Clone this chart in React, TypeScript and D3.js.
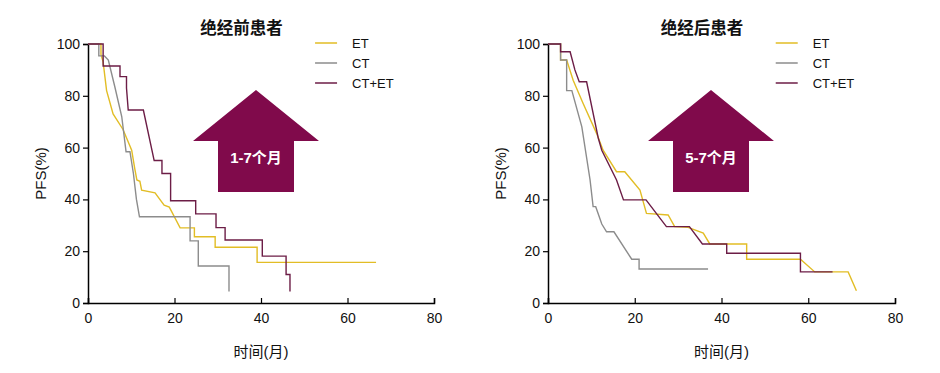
import React from 'react';
import { useEffect, useRef } from 'react';
import * as d3 from 'd3';

// PFS curves: [month, percent]
const preET = [[0, 100], [3, 100], [3, 96], [3.5, 93], [4.3, 82], [5.8, 73], [8.1, 67], [10.1, 59], [10.8, 52], [11.3, 47.5], [12.0, 47], [12.4, 43.6], [15.5, 42.5], [17.6, 37.8], [18.8, 37], [21.3, 29], [24.6, 29], [24.6, 25.6], [29.4, 25.6], [29.4, 21.5], [39.1, 21.5], [39.1, 15.7], [66.6, 15.7]];
const preCT = [[0, 100], [2.5, 100], [2.5, 95.4], [3.8, 95.4], [4.7, 93.8], [6.2, 83.5], [7.8, 72], [8.8, 58.4], [9.7, 58.4], [10.5, 50], [11.2, 40], [11.9, 33.3], [23.6, 33.3], [23.6, 24], [25.5, 24], [25.5, 14.3], [32.6, 14.3], [32.6, 4.4]];
const preCTET = [[0, 100], [3.5, 100], [3.5, 91.5], [7.4, 91.5], [7.4, 87.4], [8.9, 87.4], [8.9, 83], [9.3, 74.5], [12.8, 74.5], [15.3, 55], [17.1, 55], [17.1, 50], [19.1, 50], [19.1, 39.5], [24.9, 39.5], [24.9, 34.4], [29.6, 34.4], [29.6, 29.1], [31.7, 29.1], [31.7, 24.3], [40.3, 24.3], [40.3, 18.1], [45.8, 18.1], [45.8, 11], [46.7, 11], [46.7, 4.4]];

const postET = [[0, 100], [2.9, 100], [2.9, 93.8], [4.3, 93.8], [5.8, 86], [8.1, 77], [11.2, 65.5], [12.7, 59], [15.8, 50.7], [17.7, 50.7], [21.2, 43.6], [22.7, 34.6], [27.7, 34], [29.2, 29.5], [32.3, 29.2], [35.8, 27], [37.3, 22.8], [45.8, 22.8], [45.8, 16.9], [58.2, 16.9], [61.5, 12], [69.2, 12], [71.1, 4.7]];
const postCT = [[0, 100], [2.9, 100], [2.9, 93.8], [4.3, 93.8], [4.3, 82], [5.5, 82], [7.8, 68], [9.7, 47.5], [10.4, 37.2], [11.0, 37.2], [12.4, 30.5], [13.5, 27.5], [15.2, 27.5], [19.3, 16.9], [21, 16.9], [21, 13.1], [36.9, 13.1]];
const postCTET = [[0, 100], [2.9, 100], [2.9, 97], [5.1, 97], [6.2, 90], [7.2, 85.4], [8.9, 85.4], [11.6, 63.6], [12.4, 59], [15.8, 47.5], [17.4, 39.8], [22.6, 39.8], [27.3, 29.5], [32.6, 29.5], [35.6, 22.8], [41.2, 22.8], [41.2, 19.2], [58.2, 19.2], [58.2, 12], [65.6, 12]];

const seriesNames = ['ET', 'CT', 'CT+ET'];
const colors = ['#e2bd25', '#8c8c8c', '#6c1d46'];
const xTicks = [0, 20, 40, 60, 80];
const yTicks = [0, 20, 40, 60, 80, 100];
const titles = ['绝经前患者', '绝经后患者'];
const arrowLabels = ['1-7个月', '5-7个月'];

const cjk = '"Liberation Sans", Arial, "Noto Sans CJK SC", sans-serif';

const App = () => {
    const svgRef = useRef();
    const width = 940;
    const height = 373;

    useEffect(() => {
        const svg = d3.select(svgRef.current);
        svg.selectAll('*').remove();

        const panels = [
            { left: 88, right: 434, arrowX: 256, data: [preET, preCT, preCTET] },
            { left: 548, right: 895, arrowX: 711, data: [postET, postCT, postCTET] },
        ];

        panels.forEach((p, i) => {
            const g = svg.append('g');
            const x = d3.scaleLinear().domain([0, 80]).range([p.left, p.right]);
            const y = d3.scaleLinear().domain([0, 100]).range([303, 44]);

            // axes
            const yAxis = g.append('g')
                .attr('transform', `translate(${p.left},0)`)
                .call(d3.axisLeft(y).tickValues(yTicks).tickSize(5).tickPadding(3));
            const xAxis = g.append('g')
                .attr('transform', 'translate(0,303)')
                .call(d3.axisBottom(x).tickValues(xTicks).tickSize(-5).tickPadding(16));
            [xAxis, yAxis].forEach((a) => {
                a.select('.domain').attr('stroke', '#000').attr('stroke-width', 1.5);
                a.selectAll('.tick line').attr('stroke', '#000').attr('stroke-width', 1.2);
                a.selectAll('.tick text')
                    .attr('font-family', cjk)
                    .attr('font-size', 14)
                    .attr('fill', '#111');
            });
            xAxis.selectAll('.tick text').attr('dy', '0.3em');

            g.append('text')
                .attr('x', p.left - 42)
                .attr('y', y(50))
                .attr('transform', `rotate(-90, ${p.left - 42}, ${y(50)})`)
                .attr('text-anchor', 'middle')
                .attr('font-family', cjk)
                .attr('font-size', 15)
                .attr('fill', '#111')
                .text('PFS(%)');

            g.append('text')
                .attr('x', x(40))
                .attr('y', 357)
                .attr('text-anchor', 'middle')
                .attr('font-family', cjk)
                .attr('font-size', 15)
                .attr('fill', '#111')
                .text('时间(月)');

            g.append('text')
                .attr('x', x(35.5))
                .attr('y', 34)
                .attr('text-anchor', 'middle')
                .attr('font-family', '"Noto Sans CJK SC", sans-serif')
                .attr('font-weight', 'bold')
                .attr('font-size', 16.5)
                .attr('fill', '#111')
                .text(titles[i]);

            // arrow annotation
            const ax = p.arrowX;
            g.append('path')
                .attr('d', `M${ax},90 L${ax + 63},141 L${ax + 38},141 L${ax + 38},192 L${ax - 38},192 L${ax - 38},141 L${ax - 63},141 Z`)
                .attr('fill', '#800a4b');
            g.append('text')
                .attr('x', ax)
                .attr('y', 163)
                .attr('text-anchor', 'middle')
                .attr('font-family', cjk)
                .attr('font-weight', 'bold')
                .attr('font-size', 15)
                .attr('fill', '#fff')
                .text(arrowLabels[i]);

            // curves
            const line = d3.line()
                .x((d) => x(d[0]))
                .y((d) => y(d[1]));
            p.data.forEach((d, k) => {
                g.append('path')
                    .attr('d', line(d))
                    .attr('fill', 'none')
                    .attr('stroke', colors[k])
                    .attr('stroke-width', 1.4);
            });

            // legend
            const lx = x(52.5);
            seriesNames.forEach((name, k) => {
                const ly = 43 + k * 20;
                g.append('line')
                    .attr('x1', lx).attr('x2', lx + 22)
                    .attr('y1', ly).attr('y2', ly)
                    .attr('stroke', colors[k])
                    .attr('stroke-width', 1.5);
                g.append('text')
                    .attr('x', lx + 37)
                    .attr('y', ly + 5)
                    .attr('font-family', cjk)
                    .attr('font-size', 13)
                    .attr('fill', '#111')
                    .text(name);
            });
        });
    }, []);

    return (
        <svg width={width} height={height} ref={svgRef}
            style={{ position: 'absolute', left: 0, top: 0, background: '#fff' }} />
    );
};

export default App;
